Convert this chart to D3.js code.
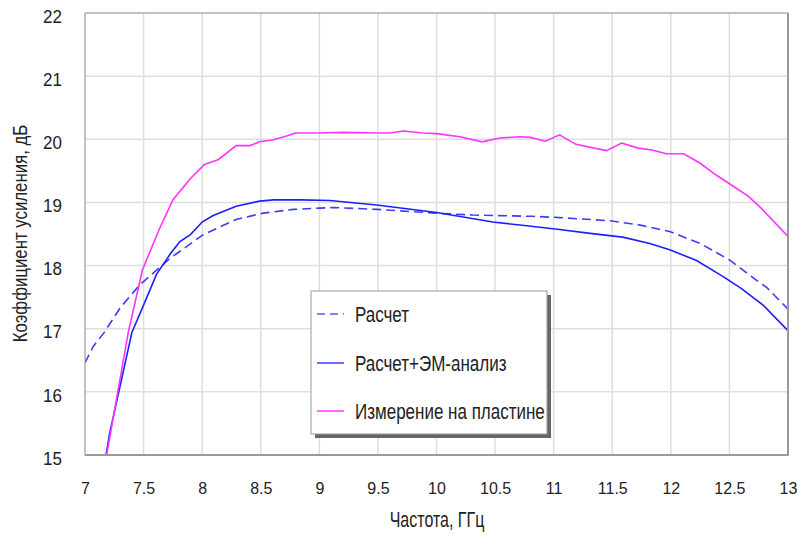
<!DOCTYPE html>
<html><head><meta charset="utf-8">
<script src="https://cdn.jsdelivr.net/npm/d3@7"></script>
<style>body{margin:0;background:#fff}text{font-family:"Liberation Sans",Arial,sans-serif;fill:#222}</style>
</head><body><svg id="c" width="798" height="534"></svg>
<script>
const xTicks=[7,7.5,8,8.5,9,9.5,10,10.5,11,11.5,12,12.5,13];
const yTicks=[15,16,17,18,19,20,21,22];
const seriesNames=["Расчет","Расчет+ЭМ-анализ","Измерение на пластине"];
const calcF=[7.0,7.07,7.16,7.3,7.47,7.73,8.01,8.29,8.52,8.78,9.0,9.12,9.49,10.0,10.31,10.82,11.05,11.48,11.74,11.99,12.25,12.5,12.73,12.82,13.0];
const calcV=[16.46,16.72,16.93,17.33,17.70,18.12,18.49,18.73,18.83,18.89,18.91,18.92,18.89,18.83,18.80,18.78,18.76,18.71,18.64,18.54,18.35,18.09,17.77,17.65,17.31];
const emF=[7.18,7.21,7.40,7.49,7.61,7.73,7.81,7.9,8.0,8.09,8.29,8.49,8.61,8.84,9.09,9.49,10.0,10.48,10.77,11.05,11.31,11.59,11.82,11.99,12.14,12.22,12.45,12.60,12.79,13.0];
const emV=[15.0,15.34,16.94,17.33,17.86,18.19,18.38,18.49,18.69,18.79,18.94,19.02,19.04,19.04,19.03,18.96,18.84,18.69,18.63,18.57,18.51,18.45,18.35,18.25,18.14,18.08,17.82,17.64,17.37,16.97];
const measF=[7.185,7.37,7.49,7.63,7.75,7.9,8.02,8.14,8.29,8.41,8.49,8.6,8.7,8.8,9.0,9.2,9.5,9.6,9.72,9.88,10.0,10.2,10.39,10.54,10.71,10.8,10.93,11.05,11.19,11.45,11.58,11.72,11.84,11.96,12.11,12.25,12.39,12.53,12.66,12.76,13.0];
const measV=[15.0,16.95,17.93,18.56,19.04,19.38,19.6,19.68,19.9,19.9,19.96,19.99,20.04,20.1,20.1,20.11,20.1,20.1,20.13,20.1,20.09,20.04,19.96,20.02,20.04,20.03,19.97,20.07,19.92,19.82,19.94,19.86,19.83,19.77,19.77,19.62,19.43,19.26,19.1,18.93,18.46];

const svg=d3.select("#c");
const L=85,R=788,T=13,B=455;
const x=d3.scaleLinear().domain([7,13]).range([L,R]);
const y=d3.scaleLinear().domain([15,22]).range([B,T]);

// grid
svg.append("g").selectAll("line").data(xTicks.slice(1,-1)).join("line")
 .attr("x1",d=>x(d)).attr("x2",d=>x(d)).attr("y1",T).attr("y2",B)
 .attr("stroke","#dedede").attr("stroke-width",1.5);
svg.append("g").selectAll("line").data(yTicks.slice(1,-1)).join("line")
 .attr("y1",d=>y(d)).attr("y2",d=>y(d)).attr("x1",L).attr("x2",R)
 .attr("stroke","#dedede").attr("stroke-width",1.5);

// axes labels
const gx=svg.append("g").attr("transform",`translate(0,${B})`)
 .call(d3.axisBottom(x).tickValues(xTicks).tickFormat(d3.format("")).tickSize(0));
gx.select(".domain").remove();
gx.selectAll("text").attr("y",39).attr("dy",null).attr("font-size",16).attr("font-family","Liberation Sans, Arial").attr("fill","#222");
const gy=svg.append("g").attr("transform",`translate(${L},0)`)
 .call(d3.axisLeft(y).tickValues(yTicks).tickFormat(d3.format("")).tickSize(0));
gy.select(".domain").remove();
gy.selectAll("text").attr("x",0).attr("y",0).attr("dy",null)
 .attr("transform","translate(-23,9.2) scale(1,1.1)")
 .attr("font-size",17).attr("font-family","Liberation Sans, Arial").attr("fill","#222");

// lines
const mk=(F,V)=>F.map((f,i)=>[f,V[i]]);
const line=d3.line().x(d=>x(d[0])).y(d=>y(d[1]));
svg.append("clipPath").attr("id","pc").append("rect").attr("x",L).attr("y",T).attr("width",R-L).attr("height",B-T);
const pg=svg.append("g").attr("clip-path","url(#pc)");
pg.append("path").attr("d",line(mk(calcF,calcV))).attr("fill","none").attr("stroke","#3c3cff").attr("stroke-width",1.6).attr("stroke-dasharray","9,5");
pg.append("path").attr("d",line(mk(emF,emV))).attr("fill","none").attr("stroke","#1e1eff").attr("stroke-width",1.6);
pg.append("path").attr("d",line(mk(measF,measV))).attr("fill","none").attr("stroke","#ff33ff").attr("stroke-width",1.6);

// frame
svg.append("rect").attr("x",L).attr("y",T).attr("width",R-L).attr("height",B-T).attr("fill","none").attr("stroke","#999").attr("stroke-width",1.2);
svg.append("path").attr("d",`M${L},${B}H${R}V${T}`).attr("fill","none").attr("stroke","#999").attr("stroke-width",2);

// titles
svg.append("text").attr("transform","translate(437,526.5) scale(1,1.36)").attr("text-anchor","middle").attr("font-size",16).text("Частота, ГГц");
svg.append("text").attr("transform","translate(27,233.5) rotate(-90) scale(1,1.15)").attr("text-anchor","middle").attr("font-size",16.8).text("Коэффициент усиления, дБ");

// legend
const lx=311,ly=291,lw=236,lh=143;
svg.append("rect").attr("x",lx+4).attr("y",ly+4).attr("width",lw).attr("height",lh).attr("fill","#666");
svg.append("rect").attr("x",lx).attr("y",ly).attr("width",lw).attr("height",lh).attr("fill","#fff").attr("stroke","#999").attr("stroke-width",1);
const styles=[{c:"#5a5aff",d:"8,5"},{c:"#4a4aff",d:null},{c:"#ff44ff",d:null}];
const rowsY=[314,363,411];
seriesNames.forEach((n,i)=>{
 svg.append("line").attr("x1",317).attr("x2",344).attr("y1",rowsY[i]).attr("y2",rowsY[i]).attr("stroke",styles[i].c).attr("stroke-width",1.6).attr("stroke-dasharray",styles[i].d);
 svg.append("text").attr("transform",`translate(355,${rowsY[i]+7.8}) scale(1,1.29)`).attr("font-size",17).text(n);
});
</script></body></html>
